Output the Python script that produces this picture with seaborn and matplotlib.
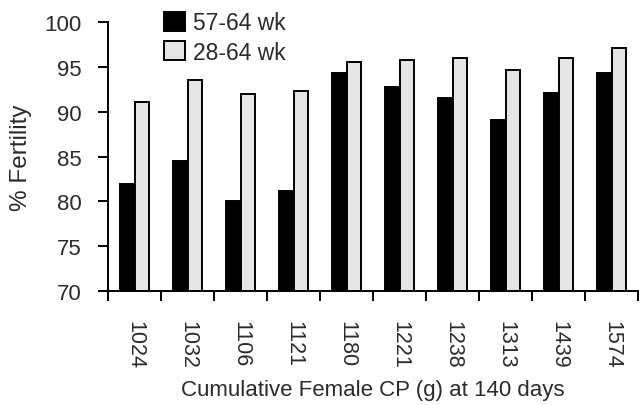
import matplotlib
matplotlib.use('Agg')
import matplotlib.pyplot as plt
import numpy as np
import pandas as pd
import seaborn as sns

# Data
cp_labels = ['1024', '1032', '1106', '1121', '1180', '1221', '1238', '1313', '1439', '1574']
fert_57_64 = [81.9, 84.5, 80.0, 81.1, 94.3, 92.7, 91.5, 89.1, 92.1, 94.3]
fert_28_64 = [91.1, 93.5, 92.0, 92.3, 95.5, 95.8, 96.0, 94.6, 96.0, 97.1]
series = ['57-64 wk', '28-64 wk']

df = pd.DataFrame({
    'CP': cp_labels * 2,
    'Fertility': fert_57_64 + fert_28_64,
    'Period': [series[0]] * len(cp_labels) + [series[1]] * len(cp_labels),
})

sns.set_style('white')
plt.rcParams['font.family'] = ['Liberation Sans', 'DejaVu Sans']
txt = '#2b2b2b'

fig = plt.figure(figsize=(6.39, 4.06), dpi=100)
ax = fig.add_axes([108 / 639, 1 - 292 / 406, 530 / 639, 269 / 406])

sns.barplot(data=df, x='CP', y='Fertility', hue='Period', order=cp_labels,
            hue_order=series, palette=['black', '#e4e6e6'], width=0.53,
            edgecolor='black', linewidth=1.4, ax=ax)

ax.set_ylim(70, 100)
ax.set_xlim(-0.5, len(cp_labels) - 0.5)
ax.set_yticks(np.arange(70, 101, 5))
ax.tick_params(axis='y', direction='out', length=7, width=1.4, color='black',
               labelsize=16, labelcolor=txt, pad=12, left=True)
ax.set_xticks(np.arange(len(cp_labels)))
ax.set_xticklabels(cp_labels, rotation=-90)
ax.tick_params(axis='x', which='major', length=0, labelsize=15.5, labelcolor=txt, pad=21)
ax.set_xticks(np.arange(len(cp_labels) + 1) - 0.5, minor=True)
ax.tick_params(axis='x', which='minor', direction='out', length=7, width=1.4,
               color='black', bottom=True)

for s in ['top', 'right']:
    ax.spines[s].set_visible(False)
for s in ['left', 'bottom']:
    ax.spines[s].set_color('black')
    ax.spines[s].set_linewidth(1.4)

ax.set_ylabel('% Fertility', fontsize=17.5, color=txt, labelpad=9)
ax.set_xlabel('Cumulative Female CP (g) at 140 days', fontsize=16, color=txt, labelpad=8)

ax.legend(loc='upper left', bbox_to_anchor=(164 / 639, 1 - 12 / 406),
          bbox_transform=fig.transFigure, frameon=False, fontsize=16.5,
          handlelength=0.9, handleheight=0.9, handletextpad=0.35,
          labelspacing=0.3, borderaxespad=0, borderpad=0,
          labelcolor=txt)

fig.savefig('out.png', dpi=100)
